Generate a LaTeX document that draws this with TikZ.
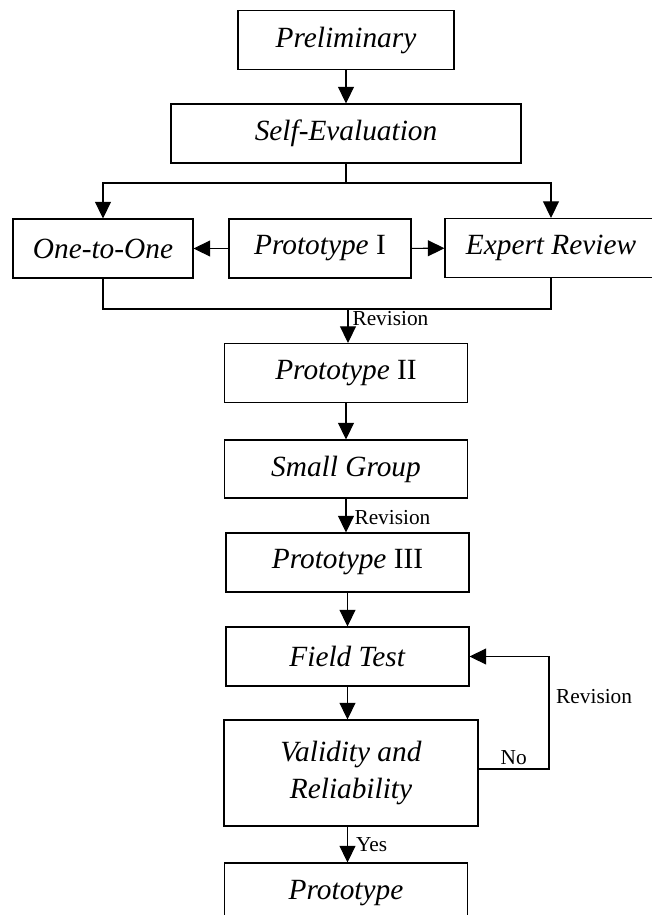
\documentclass[tikz,border=0pt]{standalone}
\usepackage{fontspec}
\setmainfont{Liberation Serif}
\usetikzlibrary{arrows.meta,positioning}

\tikzset{
  box/.style={draw, line width=0.8pt, align=center, inner sep=0pt,
    minimum height=44.25pt, font=\fontsize{22}{28}\selectfont},
  arrow/.style={line width=0.8pt, -{Triangle[length=12.5pt,width=12pt]}},
  link/.style={line width=0.8pt},
  lbl/.style={font=\fontsize{16}{18}\selectfont, inner sep=1pt}
}

\begin{document}
\begin{tikzpicture}[x=0.75pt, y=-0.75pt]
  \useasboundingbox (0,0) rectangle (651,915);

  % --------
  % boxes
  % --------
  \node[box, minimum width=162pt] at (346, 40) (prelim) {\textit{Preliminary}};
  \node[box, minimum width=262.5pt] at (346, 133.5) (selfeval) {\textit{Self-Evaluation}};

  \node[box, minimum width=135pt] at (103, 248.5) (onetoone) {\textit{One-to-One}};
  \node[box, minimum width=136.5pt] at (320, 248.5) (proto1) {\textit{Prototype} I};
  \node[box, minimum width=159pt] at (551, 248) (expert) {\textit{Expert Review}};

  \node[box, minimum width=182.25pt] at (346, 373) (proto2) {\textit{Prototype} II};
  \node[box, minimum width=182.25pt, minimum height=43.5pt] at (346, 469) (smallgroup) {\textit{Small Group}};
  \node[box, minimum width=182.25pt] at (347.5, 562.5) (proto3) {\textit{Prototype} III};
  \node[box, minimum width=182.25pt] at (347.5, 656.5) (fieldtest) {\textit{Field Test}};
  \node[box, minimum width=190.5pt, minimum height=79.5pt] at (351, 773) (valid) {\textit{Validity and}\\\textit{Reliability}};
  \node[box, minimum width=182.25pt, minimum height=45pt] at (346, 893) (prototype) {\textit{Prototype}};

  % --------
  % helper points
  % --------
  \coordinate (split) at (346, 183);
  \coordinate (merge) at (348, 309);
  \coordinate (noturn) at (549, 769);

  % Draw lines
  \draw[arrow] (prelim) -- (selfeval);
  \draw[link] (selfeval.south) -- (split);
  \draw[arrow] (split) -| (onetoone.north);
  \draw[arrow] (split) -| (expert.north);
  \draw[arrow] (proto1) -- (onetoone);
  \draw[arrow] (proto1) -- (expert);

  \draw[link] (onetoone.south) |- (merge) -| (expert.south);
  \draw[arrow] (merge) -- node[lbl, pos=0.28, right=2pt] {Revision} (merge |- proto2.north);

  \draw[arrow] (proto2) -- (smallgroup);
  \draw[arrow] (smallgroup.south) -- node[lbl, pos=0.55, right=5pt] {Revision} (smallgroup.south |- proto3.north);
  \draw[arrow] (proto3) -- (fieldtest);
  \draw[arrow] (fieldtest.south) -- (fieldtest.south |- valid.north);
  \draw[arrow] (fieldtest.south |- valid.south) -- node[lbl, pos=0.5, right=5pt] {Yes} (fieldtest.south |- prototype.north);

  \draw[arrow] (valid.east |- noturn) -- node[lbl, above=2pt] {No} (noturn)
    |- node[lbl, pos=0.32, right=4pt] {Revision} (fieldtest.east);
\end{tikzpicture}
\end{document}
